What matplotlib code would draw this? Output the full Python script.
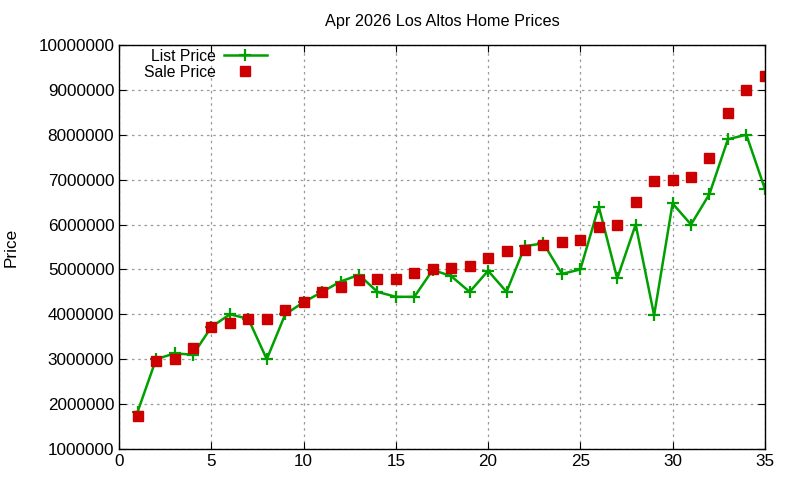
import matplotlib
matplotlib.use("Agg")
import matplotlib.pyplot as plt

DAYS = list(range(1, 36))
LIST_PRICE = [1830000, 3000000, 3130000, 3100000, 3720000, 4000000, 3900000, 3000000,
              4000000, 4270000, 4500000, 4730000, 4880000, 4500000, 4390000, 4390000,
              4990000, 4850000, 4500000, 4970000, 4500000, 5520000, 5580000, 4900000,
              5000000, 6400000, 4800000, 6000000, 3980000, 6470000, 6000000, 6680000,
              7900000, 8000000, 6800000]
SALE_PRICE = [1740000, 2970000, 3000000, 3260000, 3720000, 3810000, 3900000, 3900000,
              4100000, 4270000, 4500000, 4610000, 4760000, 4790000, 4790000, 4930000,
              5000000, 5040000, 5080000, 5260000, 5420000, 5440000, 5550000, 5620000,
              5660000, 5950000, 6000000, 6510000, 6980000, 7000000, 7060000, 7490000,
              8490000, 9000000, 9310000]
GREEN = "#00a000"
RED = "#cc0000"

plt.rcParams["font.family"] = ["Liberation Sans", "DejaVu Sans"]
fig = plt.figure(figsize=(8, 4.8), dpi=100)
ax = fig.add_axes([0.149, 0.0646, 0.807, 0.8417])

ax.plot(DAYS, LIST_PRICE, color=GREEN, lw=1.8, marker="+", ms=9, mew=1.6, label="List Price")
ax.plot(DAYS, SALE_PRICE, ls="none", marker="s", ms=6.5, color=RED, label="Sale Price")

ax.set_xlim(0, 35)
ax.set_ylim(1000000, 10000000)
ax.set_xticks(range(0, 36, 5))
ax.set_yticks(range(1000000, 10000001, 1000000))
ax.set_yticklabels([str(v) for v in range(1000000, 10000001, 1000000)])
ax.tick_params(direction="in", top=True, right=True, labelsize=12.3, length=5)
ax.grid(True, color="#999999", ls=(0, (2, 3)), lw=0.9)
for s in ax.spines.values():
    s.set_linewidth(1.0)

ax.set_title("Apr 2026 Los Altos Home Prices", fontsize=11.7, pad=14)
ax.set_ylabel("Price", fontsize=12.3, labelpad=14)

ax.legend(loc="upper right", frameon=False, markerfirst=False, fontsize=11.3,
          handlelength=2.7, handletextpad=0.55, borderaxespad=0.0, labelspacing=0.05,
          bbox_to_anchor=(0.238, 1.006))

fig.savefig("out.png", dpi=100)
